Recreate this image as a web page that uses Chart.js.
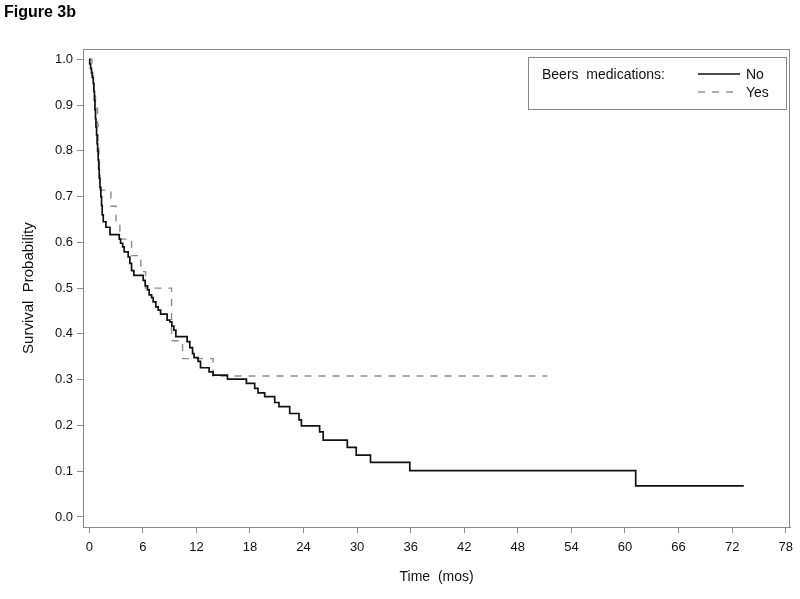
<!DOCTYPE html>
<html>
<head>
<meta charset="utf-8">
<script src="https://cdn.jsdelivr.net/npm/chart.js@4.4.1/dist/chart.umd.min.js"></script>
<style>
  html, body { margin: 0; padding: 0; background: #fff; }
  #wrap { width: 800px; height: 599px; }
</style>
</head>
<body>
<div id="wrap"><canvas id="kmChart" width="800" height="599"></canvas></div>
<script>
// Kaplan-Meier estimates (time in months)
const noTime = [0, 0.05, 0.15, 0.25, 0.35, 0.45, 0.52, 0.58, 0.64, 0.7, 0.75, 0.82, 0.88, 0.94, 1.0, 1.06, 1.12, 1.2, 1.3, 1.38, 1.45, 1.57, 1.87, 2.32,
  3.36, 3.51, 3.74, 3.91, 4.36, 4.55, 4.74, 5.0, 6.04, 6.26, 6.53, 6.71, 6.98, 7.16, 7.46, 7.72, 7.99, 8.72, 9.03, 9.25, 9.47, 9.7,
  10.96, 11.26, 11.57, 11.74, 12.19, 12.46, 13.42, 13.87, 15.48, 17.6, 18.53, 18.9, 19.65, 20.77, 21.25, 22.45, 23.49, 23.76,
  25.8, 26.2, 28.9, 29.9, 31.5, 35.9, 61.2, 73.3];
const noSurv = [1.0, 0.99, 0.98, 0.97, 0.96, 0.947, 0.93, 0.91, 0.89, 0.87, 0.852, 0.835, 0.815, 0.8, 0.78, 0.76, 0.74, 0.72, 0.7, 0.68, 0.66, 0.645, 0.633, 0.617,
  0.607, 0.598, 0.59, 0.579, 0.568, 0.554, 0.538, 0.528, 0.517, 0.505, 0.496, 0.485, 0.479, 0.47, 0.459, 0.452, 0.443, 0.43, 0.426, 0.417, 0.408, 0.394,
  0.383, 0.37, 0.357, 0.348, 0.34, 0.326, 0.317, 0.31, 0.301, 0.292, 0.281, 0.271, 0.263, 0.25, 0.241, 0.226, 0.212, 0.199,
  0.186, 0.168, 0.152, 0.135, 0.119, 0.101, 0.068, 0.068];

const yesTime = [0, 0.3, 0.5, 0.7, 0.93, 1.0, 1.08, 1.14, 1.2, 2.43, 2.99, 3.43, 4.74, 5.78, 6.31, 9.22, 10.45, 13.87, 51.3];
const yesSurv = [1.0, 0.964, 0.929, 0.893, 0.857, 0.821, 0.786, 0.75, 0.714, 0.679, 0.643, 0.607, 0.571, 0.536, 0.5, 0.385, 0.346, 0.308, 0.308];

const xTicks = [0, 6, 12, 18, 24, 30, 36, 42, 48, 54, 60, 66, 72, 78];
const yTicks = [0, 0.1, 0.2, 0.3, 0.4, 0.5, 0.6, 0.7, 0.8, 0.9, 1.0];

const legendTitle = 'Beers  medications:';
const frameColor = '#8a8a8a';
const textColor = '#111';

Chart.defaults.font.family = "'Liberation Sans', Arial, Helvetica, sans-serif";
Chart.defaults.color = textColor;

const toPoints = (t, s) => t.map((v, i) => ({ x: v, y: s[i] }));

// full box around the plot area + SAS style inset legend
const framePlugin = {
    id: 'frame',
    afterDraw(chart) {
        const { ctx, chartArea: a } = chart;
        ctx.save();
        ctx.strokeStyle = frameColor;
        ctx.lineWidth = 1;
        ctx.strokeRect(Math.round(a.left) + 0.5, Math.round(a.top) + 0.5,
            Math.round(a.right - a.left) - 1, Math.round(a.bottom - a.top));

        // legend box
        const bx = Math.round(a.right) - 262, by = Math.round(a.top) + 8;
        ctx.strokeRect(bx + 0.5, by + 0.5, 258, 52);
        ctx.font = "14px 'Liberation Sans', Arial, sans-serif";
        ctx.fillStyle = textColor;
        ctx.textBaseline = 'middle';
        ctx.fillText(legendTitle, bx + 14, by + 18);
        chart.data.datasets.forEach((ds, i) => {
            const ly = by + 17 + i * 18;
            ctx.beginPath();
            ctx.strokeStyle = ds.borderColor;
            ctx.lineWidth = ds.borderWidth;
            ctx.setLineDash(ds.borderDash || []);
            ctx.moveTo(bx + 170, ly);
            ctx.lineTo(bx + 212, ly);
            ctx.stroke();
            ctx.setLineDash([]);
            ctx.fillText(ds.label, bx + 218, ly + 1);
        });
        ctx.restore();
    }
};

new Chart(document.getElementById('kmChart'), {
    type: 'line',
    data: {
        datasets: [
            {
                label: 'No',
                data: toPoints(noTime, noSurv),
                borderColor: '#111',
                borderWidth: 1.7,
                stepped: 'before',
                pointRadius: 0,
                fill: false
            },
            {
                label: 'Yes',
                data: toPoints(yesTime, yesSurv),
                borderColor: '#8c8c8c',
                borderWidth: 1.4,
                borderDash: [7, 7],
                stepped: 'before',
                pointRadius: 0,
                fill: false
            }
        ]
    },
    options: {
        responsive: false,
        animation: false,
        devicePixelRatio: 1,
        layout: { padding: { left: 4, right: 9, top: 0, bottom: 0 } },
        plugins: {
            legend: { display: false },
            tooltip: { enabled: false },
            title: {
                display: true,
                text: 'Figure 3b',
                align: 'start',
                color: '#000',
                font: { size: 16, weight: 'bold' },
                padding: { top: 3, bottom: 27 }
            }
        },
        scales: {
            x: {
                type: 'linear',
                min: -0.7,
                max: 78.5,
                afterBuildTicks: (axis) => { axis.ticks = xTicks.map(v => ({ value: v })); },
                afterFit: (scale) => { scale.height = 72; },
                ticks: { font: { size: 13 }, padding: 7, maxRotation: 0, callback: (v) => String(v) },
                grid: { drawOnChartArea: false, tickLength: 6, color: frameColor },
                border: { color: frameColor },
                title: {
                    display: true,
                    text: 'Time  (mos)',
                    font: { size: 14 },
                    padding: { top: 0, bottom: 13 }
                }
            },
            y: {
                type: 'linear',
                min: -0.022,
                max: 1.022,
                afterBuildTicks: (axis) => { axis.ticks = yTicks.map(v => ({ value: v })); },
                afterFit: (scale) => { scale.width = 79; },
                ticks: { font: { size: 13 }, padding: 4, callback: (v) => v.toFixed(1) },
                grid: { drawOnChartArea: false, tickLength: 6, color: frameColor },
                border: { color: frameColor },
                title: {
                    display: true,
                    text: 'Survival  Probability',
                    font: { size: 15 },
                    padding: { top: 16, bottom: 0 }
                }
            }
        }
    },
    plugins: [framePlugin]
});
</script>
</body>
</html>
